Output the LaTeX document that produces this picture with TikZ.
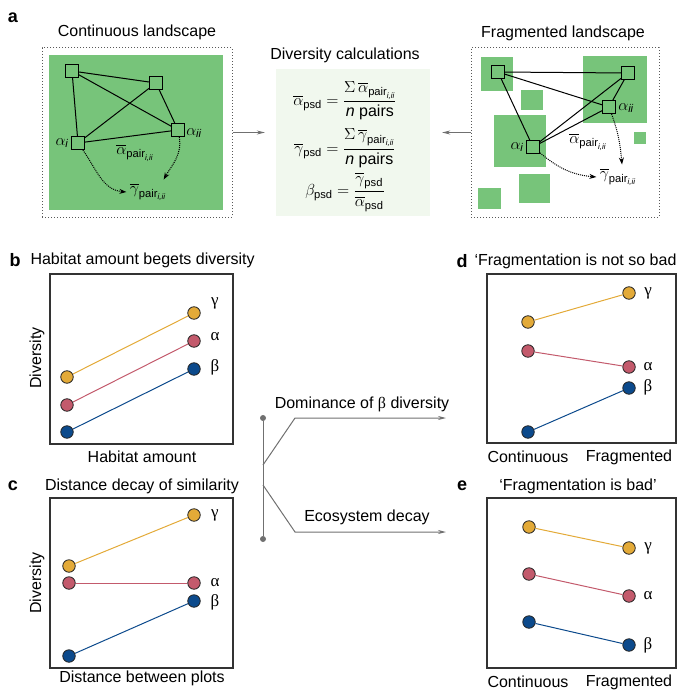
\RequirePackage{fix-cm}
\documentclass[tikz,border=0pt]{standalone}
\usepackage{amsmath}
\usepackage{fontspec}
\setmainfont{Liberation Sans}
\newfontfamily\greek{Liberation Serif}
\usetikzlibrary{arrows.meta}
\definecolor{habitat}{HTML}{77C47A}
\definecolor{calcbg}{HTML}{F1F8EE}
\definecolor{gold}{HTML}{E3AA38}
\definecolor{rose}{HTML}{C35A6C}
\definecolor{navy}{HTML}{0C4A8C}
\definecolor{flowgray}{HTML}{707070}
\tikzset{
  txt/.style={font=\fontsize{16}{18}\selectfont},
  tag/.style={font=\fontsize{18}{20}\selectfont\bfseries},
  grk/.style={font=\greek\fontsize{17}{18}\selectfont},
  site/.style={draw,line width=1pt,fill=habitat,minimum size=13pt,inner sep=0pt},
  spot/.style={circle,draw=black!85,line width=0.8pt,inner sep=0pt,minimum size=12.5pt},
  plotbox/.style={draw=black!80,line width=1.4pt},
  mapframe/.style={draw=black!65,dotted,line width=1pt},
  link/.style={line width=1pt},
  pairarrow/.style={densely dotted,line width=1pt,-{Stealth[length=7pt,width=5pt]}},
  flow/.style={draw=flowgray,line width=1pt,-{Stealth[length=8pt,width=4pt]}},
  joint/.style={circle,fill=flowgray,inner sep=0pt,minimum size=6pt}
}
\newcommand{\pairsub}{\text{pair}_{\text{\itshape i,ii}}}

\begin{document}
\begin{tikzpicture}[x=1pt,y=-1pt]
\useasboundingbox (0,0) rectangle (677,695);

\node[tag] (taga) at (13,18) {a};
\node[txt] (tcont) at (137,32) {Continuous landscape};
\node[mapframe,minimum width=190pt,minimum height=169pt] (cmap) at (137,132.5) {};
\fill[habitat] (49,55) rectangle (223,210);
\node[site] (c1) at (72,71) {};
\node[site] (c2) at (156,83) {};
\node[site] (cii) at (178,130) {};
\node[site] (ci) at (78,143) {};
\foreach \u/\v in {c1/c2,c1/cii,c1/ci,c2/ci,c2/cii,ci/cii} \draw[link] (\u) -- (\v);
\node[txt] (cai) at (62,143) {$\alpha_{\text{\itshape i}}$};
\node[txt] (caii) at (194,133) {$\alpha_{\text{\itshape ii}}$};
\node[txt] (cpa) at (135,153) {$\overline{\alpha}_{\pairsub}$};
\node[txt] (cpg) at (148,192) {$\overline{\gamma}_{\pairsub}$};
\draw[pairarrow] (ci) to[out=-55,in=175] (cpg.west);
\draw[pairarrow] (cii) to[out=-80,in=60] ([xshift=-6pt]cpg.north east);

\node[txt] (tcalc) at (345,55) {Diversity calculations};
\node[fill=calcbg,minimum width=154pt,minimum height=147pt] (calc) at (353,142.5) {};
\node[txt] (eqa) at (345,101) {$\overline{\alpha}_{\text{psd}} = \dfrac{\Sigma\,\overline{\alpha}_{\pairsub}}{\text{\itshape n}\text{ pairs}}$};
\node[txt] (eqg) at (345,148) {$\overline{\gamma}_{\text{psd}} = \dfrac{\Sigma\,\overline{\gamma}_{\pairsub}}{\text{\itshape n}\text{ pairs}}$};
\node[txt] (eqb) at (345,192) {$\beta_{\text{psd}} = \dfrac{\overline{\gamma}_{\text{psd}}}{\overline{\alpha}_{\text{psd}}}$};

\node[txt] (tfrag) at (563,33) {Fragmented landscape};
\node[mapframe,minimum width=188pt,minimum height=169pt] (fmap) at (565,132.5) {};
\foreach \xa/\ya/\xb/\yb in {481/57/513/91,583/56/647/123,521/90/543/110,494/115/546/167,634/132/646/144,519/174/550/203,478/188/501/209}
  \fill[habitat] (\xa,\ya) rectangle (\xb,\yb);
\node[site] (f1) at (498,72) {};
\node[site] (f2) at (628,73) {};
\node[site] (fii) at (609,107) {};
\node[site] (fi) at (533,147) {};
\foreach \u/\v in {f1/f2,f1/fii,f1/fi,f2/fi,f2/fii,fi/fii} \draw[link] (\u) -- (\v);
\node[txt] (fai) at (517,147) {$\alpha_{\text{\itshape i}}$};
\node[txt] (faii) at (626,108) {$\alpha_{\text{\itshape ii}}$};
\node[txt] (fpa) at (588,142) {$\overline{\alpha}_{\pairsub}$};
\node[txt] (fpg) at (618,177) {$\overline{\gamma}_{\pairsub}$};
\draw[pairarrow] (fi) to[out=-40,in=175] (fpg.west);
\draw[pairarrow] (fii) to[out=-70,in=95] ([xshift=4pt]fpg.north);

\draw[flow] (cmap.east) -- ([xshift=-11pt]calc.west |- cmap.east);
\draw[flow] (fmap.west) -- ([xshift=12pt]calc.east |- fmap.west);

\node[tag] (tagb) at (15,260) {b};
\node[txt,anchor=west] (tb) at (27,260) {Habitat amount begets diversity};
\draw[plotbox] (50,274) rectangle (233,444);
\node[txt,rotate=90] (yb) at (37,358) {Diversity};
\node[txt] (xb) at (142,457) {Habitat amount};
\foreach \s/\c/\yl/\yr/\ty/\g in {g/gold/377/313/303/γ,a/rose/405/341/337/α,b/navy/432/369/367/β}{
  \node[spot,fill=\c] (b\s0) at (67,\yl) {};
  \node[spot,fill=\c] (b\s1) at (194,\yr) {};
  \draw[\c,line width=1pt] (b\s0) -- (b\s1);
  \node[grk] (b\s t) at (215,\ty) {\g};
}

\node[tag] (tagc) at (13,486) {c};
\node[txt] (tc) at (142,486) {Distance decay of similarity};
\draw[plotbox] (50,498) rectangle (233,668);
\node[txt,rotate=90] (yc) at (37,583) {Diversity};
\node[txt] (xc) at (142,678) {Distance between plots};
\foreach \s/\c/\yl/\yr/\ty/\g in {g/gold/566/515/515/γ,a/rose/583/583/583/α,b/navy/656/601/602/β}{
  \node[spot,fill=\c] (c\s0) at (69,\yl) {};
  \node[spot,fill=\c] (c\s1) at (194,\yr) {};
  \draw[\c,line width=1pt] (c\s0) -- (c\s1);
  \node[grk] (c\s t) at (215,\ty) {\g};
}

\node[tag] (tagd) at (462,261) {d};
\node[txt,anchor=west] (td) at (471,261) {‘Fragmentation is not so bad};
\draw[plotbox] (487,274) rectangle (676,443);
\node[txt] (xd0) at (528,457) {Continuous};
\node[txt] (xd1) at (629,457) {Fragmented};
\foreach \s/\c/\yl/\yr/\ty/\g in {g/gold/322/293/293/γ,a/rose/351/367/367/α,b/navy/432/388/387/β}{
  \node[spot,fill=\c] (d\s0) at (528,\yl) {};
  \node[spot,fill=\c] (d\s1) at (629,\yr) {};
  \draw[\c,line width=1pt] (d\s0) -- (d\s1);
  \node[grk] (d\s t) at (648,\ty) {\g};
}

\node[tag] (tage) at (462,486) {e};
\node[txt] (te) at (578,486) {‘Fragmentation is bad’};
\draw[plotbox] (487,498) rectangle (676,668);
\node[txt] (xe0) at (528,682) {Continuous};
\node[txt] (xe1) at (629,682) {Fragmented};
\foreach \s/\c/\yl/\yr/\ty/\g in {g/gold/527/548/548/γ,a/rose/574/596/596/α,b/navy/622/645/645/β}{
  \node[spot,fill=\c] (e\s0) at (529,\yl) {};
  \node[spot,fill=\c] (e\s1) at (629,\yr) {};
  \draw[\c,line width=1pt] (e\s0) -- (e\s1);
  \node[grk] (e\s t) at (648,\ty) {\g};
}

\node[joint] (jtop) at (263,418) {};
\node[joint] (jbot) at (263,539) {};
\draw[flowgray,line width=1pt] (jtop) -- (jbot);
\coordinate (ja) at (263,465);
\coordinate (jb) at (263,485);
\coordinate (ka) at (295,418);
\coordinate (kb) at (295,532);
\coordinate (ea) at (446,418);
\coordinate (eb) at (446,532);
\draw[flow] (ja) -- (ka) -- (ea);
\draw[flow] (jb) -- (kb) -- (eb);
\node[txt] (tdom) at (362,404) {Dominance of {\greek β} diversity};
\node[txt] (teco) at (367,517) {Ecosystem decay};
\end{tikzpicture}
\end{document}
